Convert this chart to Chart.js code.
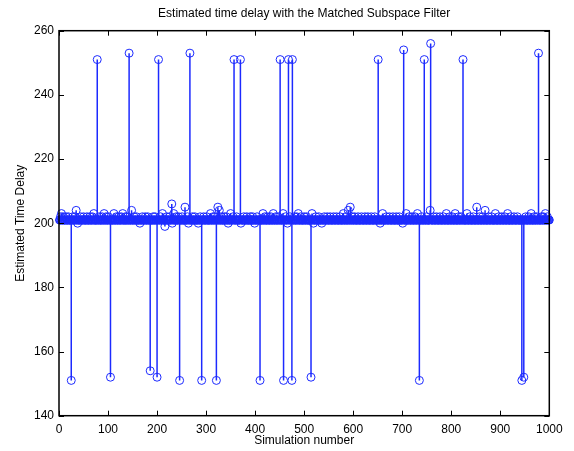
<!DOCTYPE html>
<html><head><meta charset="utf-8">
<script src="https://cdn.jsdelivr.net/npm/chart.js@4/dist/chart.umd.min.js"></script>
<style>html,body{margin:0;padding:0;background:#fff}#wrap{width:574px;height:451px}</style>
</head><body><div id="wrap"><canvas id="c" width="574" height="451"></canvas></div>
<script>
const chartTitle = 'Estimated time delay with the Matched Subspace Filter';
const xLabel = 'Simulation number';
const yLabel = 'Estimated Time Delay';
const simulationCount = 1000;
const typicalDelay = 201;
const xTicks = [0, 100, 200, 300, 400, 500, 600, 700, 800, 900, 1000];
const yTicks = [140, 160, 180, 200, 220, 240, 260];

// large outliers (simulation number -> estimated delay)
const spikeIndex = [25, 78, 105, 143, 186, 200, 203, 246, 267, 291, 321, 357, 370, 410, 451, 458, 468, 475, 476, 514, 651, 703, 735, 745, 758, 824, 944, 948, 978];
const spikeValue = [151, 251, 152, 253, 154, 152, 251, 151, 253, 151, 151, 251, 251, 151, 251, 151, 251, 151, 251, 152, 251, 254, 151, 251, 256, 251, 151, 152, 253];

// small deviations visible around the main band
const smallIndex = [230, 257, 324, 594, 852, 35, 148, 327, 590, 757, 869,
  5, 71, 92, 112, 130, 211, 234, 309, 350, 416, 437, 457, 488, 516, 580, 660, 708, 731, 790, 808, 832, 890, 915, 963, 992,
  38, 165, 231, 264, 284, 345, 371, 399, 466, 519, 536, 655, 701, 216];
const smallValue = [206, 205, 205, 205, 205, 204, 204, 204, 204, 204, 204,
  203, 203, 203, 203, 203, 203, 203, 203, 203, 203, 203, 203, 203, 203, 203, 203, 203, 203, 203, 203, 203, 203, 203, 203, 203,
  200, 200, 200, 200, 200, 200, 200, 200, 200, 200, 200, 200, 200, 199];

// simulations whose estimate was 202
const delay202Index = [3, 9, 14, 19, 28, 33, 44, 50, 57, 63, 68, 82, 88, 96, 101, 117, 122, 127, 135, 139, 153, 158, 170, 176, 181, 192, 196, 207, 220, 226, 239, 244, 251, 262, 272, 277, 288, 295, 301, 314, 318, 331, 337, 341, 355, 362, 377, 383, 390, 395, 404, 420, 426, 432, 442, 447, 462, 471, 480, 485, 493, 500, 505, 524, 530, 541, 547, 553, 560, 566, 573, 585, 598, 603, 610, 617, 624, 630, 637, 644, 668, 674, 681, 688, 694, 714, 720, 726, 740, 750, 764, 770, 777, 784, 797, 802, 815, 820, 838, 845, 858, 864, 876, 882, 897, 903, 909, 921, 928, 935, 952, 958, 969, 974, 984, 988, 996];

const delays = new Array(simulationCount).fill(typicalDelay);
delay202Index.forEach(i => { delays[i - 1] = 202; });
smallIndex.forEach((i, k) => { delays[i - 1] = smallValue[k]; });
spikeIndex.forEach((i, k) => { delays[i - 1] = spikeValue[k]; });

const blue = 'rgb(28,42,255)';
const fontFam = '"Liberation Sans", Arial, Helvetica, sans-serif';

const points = delays.map((v, i) => ({ x: i + 1, y: v }));
const stems = [];
delays.forEach((v, i) => {
  stems.push({ x: i + 1, y: typicalDelay }, { x: i + 1, y: v }, { x: i + 1, y: null });
});

const boxPlugin = {
  id: 'box',
  afterDatasetsDraw(chart) {
    const { ctx, chartArea: a, scales: { x, y } } = chart;
    ctx.save();
    ctx.strokeStyle = '#000';
    ctx.lineWidth = 1;
    ctx.beginPath();
    xTicks.forEach(v => {
      const p = Math.round(x.getPixelForValue(v)) + 0.5;
      ctx.moveTo(p, a.bottom); ctx.lineTo(p, a.bottom - 5);
      ctx.moveTo(p, a.top); ctx.lineTo(p, a.top + 5);
    });
    yTicks.forEach(v => {
      const p = Math.round(y.getPixelForValue(v)) + 0.5;
      ctx.moveTo(a.left, p); ctx.lineTo(a.left + 5, p);
      ctx.moveTo(a.right, p); ctx.lineTo(a.right - 5, p);
    });
    ctx.stroke();
    ctx.lineWidth = 1.5;
    ctx.strokeRect(a.left, a.top, a.right - a.left, a.bottom - a.top);
    ctx.restore();
  }
};

new Chart(document.getElementById('c'), {
  type: 'scatter',
  data: {
    datasets: [
      { type: 'line', data: stems, showLine: true, spanGaps: false, borderColor: blue, borderWidth: 1.5, pointRadius: 0, fill: false, clip: 6 },
      { type: 'scatter', data: points, pointStyle: 'circle', pointRadius: 4, pointBorderWidth: 1, pointBorderColor: blue, pointBackgroundColor: 'rgba(0,0,0,0)', clip: 8 }
    ]
  },
  options: {
    responsive: false,
    animation: false,
    events: [],
    layout: { padding: { top: 0, left: 0, right: 24.7, bottom: 0 } },
    plugins: {
      legend: { display: false },
      tooltip: { enabled: false },
      title: { display: true, fullSize: false, text: chartTitle, color: '#000', font: { family: fontFam, size: 12, weight: 'normal' }, padding: { top: 6.8, bottom: 9.5 } }
    },
    scales: {
      x: {
        type: 'linear', min: 0, max: 1000,
        afterBuildTicks: s => { s.ticks = xTicks.map(v => ({ value: v })); },
        afterFit: s => { s.height = 35.3; },
        grid: { display: false, drawTicks: false }, border: { display: false },
        ticks: { color: '#000', font: { family: fontFam, size: 12 }, padding: 7, maxRotation: 0, autoSkip: false, callback: v => String(v) },
        title: { display: true, text: xLabel, color: '#000', font: { family: fontFam, size: 12 }, padding: { top: 0, bottom: 2.8 } }
      },
      y: {
        type: 'linear', min: 140, max: 260,
        afterBuildTicks: s => { s.ticks = yTicks.map(v => ({ value: v })); },
        afterFit: s => { s.width = 59; },
        grid: { display: false, drawTicks: false }, border: { display: false },
        ticks: { color: '#000', font: { family: fontFam, size: 12 }, padding: 5, autoSkip: false, callback: v => String(v) },
        title: { display: true, text: yLabel, color: '#000', font: { family: fontFam, size: 12 }, padding: { top: 13, bottom: 0 } }
      }
    }
  },
  plugins: [boxPlugin]
});
</script>
</body></html>
